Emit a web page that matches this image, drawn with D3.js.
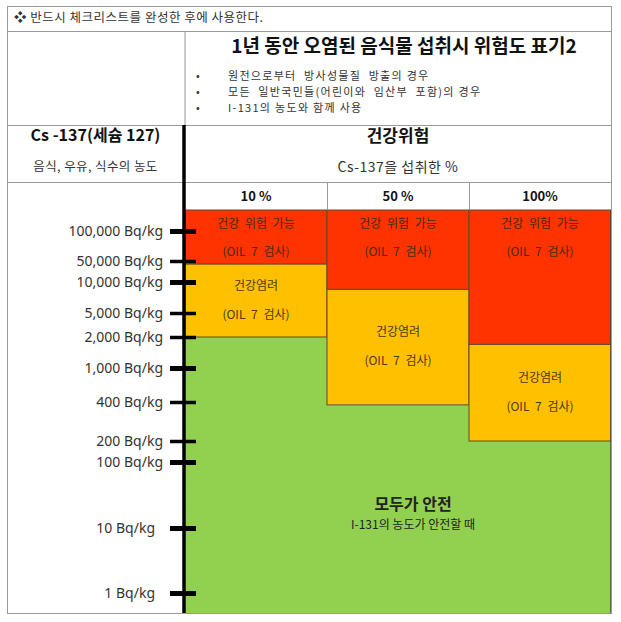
<!DOCTYPE html>
<html><head><meta charset="utf-8">
<script src="https://cdn.jsdelivr.net/npm/d3@7"></script>
<style>
html,body{margin:0;padding:0;background:#fff;}
text{font-family:"Noto Sans CJK KR","Noto Sans",sans-serif;}
</style></head>
<body>
<svg id="c" width="621" height="622"></svg>
<script>
// ---- data ----
const noteText = "❖ 반드시 체크리스트를 완성한 후에 사용한다.";
const titleText = "1년 동안 오염된 음식물 섭취시 위험도 표기2";
const bullets = ["원전으로부터  방사성물질  방출의 경우", "모든  일반국민들(어린이와  임산부  포함)의 경우", "I-131의 농도와 함께 사용"];
const categories = ["10 %", "50 %", "100%"];
const tickValues = [1, 10, 100, 200, 400, 1000, 2000, 5000, 10000, 50000, 100000];
const concernLow = [2000, 380, 200];     // 건강염려 lower limit (Bq/kg)
const dangerLow = [40000, 8500, 1700];   // 건강 위험 가능 lower limit (Bq/kg)
const dangerLabel = ["건강 위험 가능", "(OIL 7 검사)"];
const concernLabel = ["건강염려", "(OIL 7 검사)"];
const safeLabel = ["모두가 안전", "I-131의 농도가 안전할 때"];

// ---- layout ----
const svg = d3.select("#c");
const T = {l: 7, r: 611, t: 6, b: 613};
const rows = [31, 125, 182, 210];
const axisX = 184, plotL = 185;
const gray = "#9a9a9a";

// y scale: hand drawn non-uniform log axis of the reference (piecewise log)
const y = d3.scaleLog()
  .domain(tickValues)
  .range([593, 528, 462, 441, 402, 368, 337, 313, 282, 261, 231]);
const x = d3.scaleBand().domain(categories).range([plotL, T.r]);
const plotTop = rows[3], plotBot = T.b;

// green / orange / red blocks
const colData = categories.map((c, i) => ({c, concern: concernLow[i], danger: dangerLow[i]}));
const blocks = svg.append("g");
blocks.selectAll("rect.safe").data(colData).join("rect").attr("class","safe")
  .attr("x", d => x(d.c)).attr("width", x.bandwidth())
  .attr("y", d => y(d.concern)).attr("height", d => plotBot - y(d.concern))
  .attr("fill", "#92D050");
blocks.selectAll("rect.concern").data(colData).join("rect").attr("class","concern")
  .attr("x", d => x(d.c)).attr("width", x.bandwidth())
  .attr("y", d => y(d.danger)).attr("height", d => y(d.concern) - y(d.danger))
  .attr("fill", "#FFC000").attr("stroke", "#5e4b2c").attr("stroke-width", 1);
blocks.selectAll("rect.danger").data(colData).join("rect").attr("class","danger")
  .attr("x", d => x(d.c)).attr("width", x.bandwidth())
  .attr("y", plotTop).attr("height", d => y(d.danger) - plotTop)
  .attr("fill", "#FF3300").attr("stroke", "#5e4b2c").attr("stroke-width", 1);
// right edge of plot
svg.append("line").attr("x1", T.r).attr("x2", T.r).attr("y1", plotTop).attr("y2", plotBot)
  .attr("stroke", "#4a4a3a").attr("stroke-width", 1.5);

// block texts
const tg = svg.append("g").attr("font-size", 12).attr("text-anchor", "middle").attr("fill", "#4a2a10").style("word-spacing", "3px");
colData.forEach(d => {
  const cx = x(d.c) + x.bandwidth() / 2;
  dangerLabel.forEach((t, k) => tg.append("text").attr("x", cx).attr("y", plotTop + 15 + k * 28)
    .attr("dominant-baseline", "middle").text(t));
  const mid = (y(d.danger) + y(d.concern)) / 2;
  concernLabel.forEach((t, k) => tg.append("text").attr("x", cx).attr("y", mid - 14 + k * 29)
    .attr("dominant-baseline", "middle").attr("fill", "#4a3a10").text(t));
});
svg.append("text").attr("x", 413).attr("y", 506).attr("text-anchor", "middle").attr("dominant-baseline", "middle")
  .attr("font-size", 16).attr("font-weight", "bold").attr("fill", "#222").text(safeLabel[0]);
svg.append("text").attr("x", 413).attr("y", 526).attr("text-anchor", "middle").attr("dominant-baseline", "middle")
  .attr("font-size", 12).attr("fill", "#222").text(safeLabel[1]);

// table lines
const lines = svg.append("g").attr("stroke", gray).attr("stroke-width", 1).attr("fill", "none");
lines.append("rect").attr("x", T.l + 0.5).attr("y", T.t + 0.5).attr("width", T.r - T.l).attr("height", T.b - T.t);
[rows[0], rows[1], rows[2]].forEach(r => lines.append("line").attr("x1", T.l).attr("x2", T.r).attr("y1", r + 0.5).attr("y2", r + 0.5));
lines.append("line").attr("x1", plotL).attr("x2", plotL).attr("y1", rows[0]).attr("y2", rows[1]);
categories.slice(1).forEach(c => lines.append("line").attr("x1", x(c) + 0.5).attr("x2", x(c) + 0.5).attr("y1", rows[2]).attr("y2", rows[3]));

// axis
const axis = d3.axisLeft(y).tickValues(tickValues)
  .tickFormat(d => d3.format(",")(d) + " Bq/kg").tickSize(0).tickPadding(21);
const ag = svg.append("g").attr("transform", `translate(${axisX},0)`).call(axis);
ag.select(".domain").remove();
ag.selectAll("text").attr("font-size", 14).attr("fill", "#333")
  .attr("dx", d => d < 100 ? -8 : 0)
  .style("font-family", '"Noto Sans","Noto Sans CJK KR",sans-serif');
svg.append("line").attr("x1", axisX).attr("x2", axisX).attr("y1", rows[1]).attr("y2", plotBot)
  .attr("stroke", "#000").attr("stroke-width", 3.5);
ag.selectAll(".tick").append("line").attr("x1", -14).attr("x2", 12)
  .attr("stroke", "#000").attr("stroke-width", d => Number.isInteger(Math.log10(d)) ? 5 : 3.5);

// header texts
svg.append("text").attr("x", 14).attr("y", 19).attr("dominant-baseline", "middle")
  .attr("font-size", 12.5).attr("fill", "#333").style("letter-spacing", "0.5px").text(noteText);
const cxR = (plotL + T.r) / 2;
svg.append("text").attr("x", cxR + 6).attr("y", 48).attr("text-anchor", "middle").attr("dominant-baseline", "middle")
  .attr("font-size", 19).attr("font-weight", "bold").attr("fill", "#111").text(titleText);
bullets.forEach((b, i) => {
  svg.append("text").attr("x", 196).attr("y", 77 + i * 16).attr("dominant-baseline", "middle")
    .attr("font-size", 11).attr("fill", "#333").text("•");
  svg.append("text").attr("x", 228).attr("y", 77 + i * 16).attr("dominant-baseline", "middle")
    .attr("font-size", 11).attr("fill", "#333").style("letter-spacing", "1.3px").style("white-space", "pre").text(b);
});
svg.append("text").attr("x", (T.l + axisX) / 2).attr("y", 137).attr("text-anchor", "middle").attr("dominant-baseline", "middle")
  .attr("font-size", 16).attr("font-weight", "bold").attr("fill", "#111").text("Cs -137(세슘 127)");
svg.append("text").attr("x", (T.l + axisX) / 2).attr("y", 168).attr("text-anchor", "middle").attr("dominant-baseline", "middle")
  .attr("font-size", 12.5).attr("fill", "#333").style("letter-spacing", "0.4px").text("음식, 우유, 식수의 농도");
svg.append("text").attr("x", cxR).attr("y", 137).attr("text-anchor", "middle").attr("dominant-baseline", "middle")
  .attr("font-size", 17).attr("font-weight", "bold").attr("fill", "#111").text("건강위험");
svg.append("text").attr("x", cxR).attr("y", 168).attr("text-anchor", "middle").attr("dominant-baseline", "middle")
  .attr("font-size", 14).attr("fill", "#333").style("letter-spacing", "0.5px").text("Cs-137을 섭취한 %");
categories.forEach(c => svg.append("text").attr("x", x(c) + x.bandwidth() / 2).attr("y", 197)
  .attr("text-anchor", "middle").attr("dominant-baseline", "middle")
  .attr("font-size", 13).attr("font-weight", "bold").attr("fill", "#111").text(c));
</script>
</body></html>
